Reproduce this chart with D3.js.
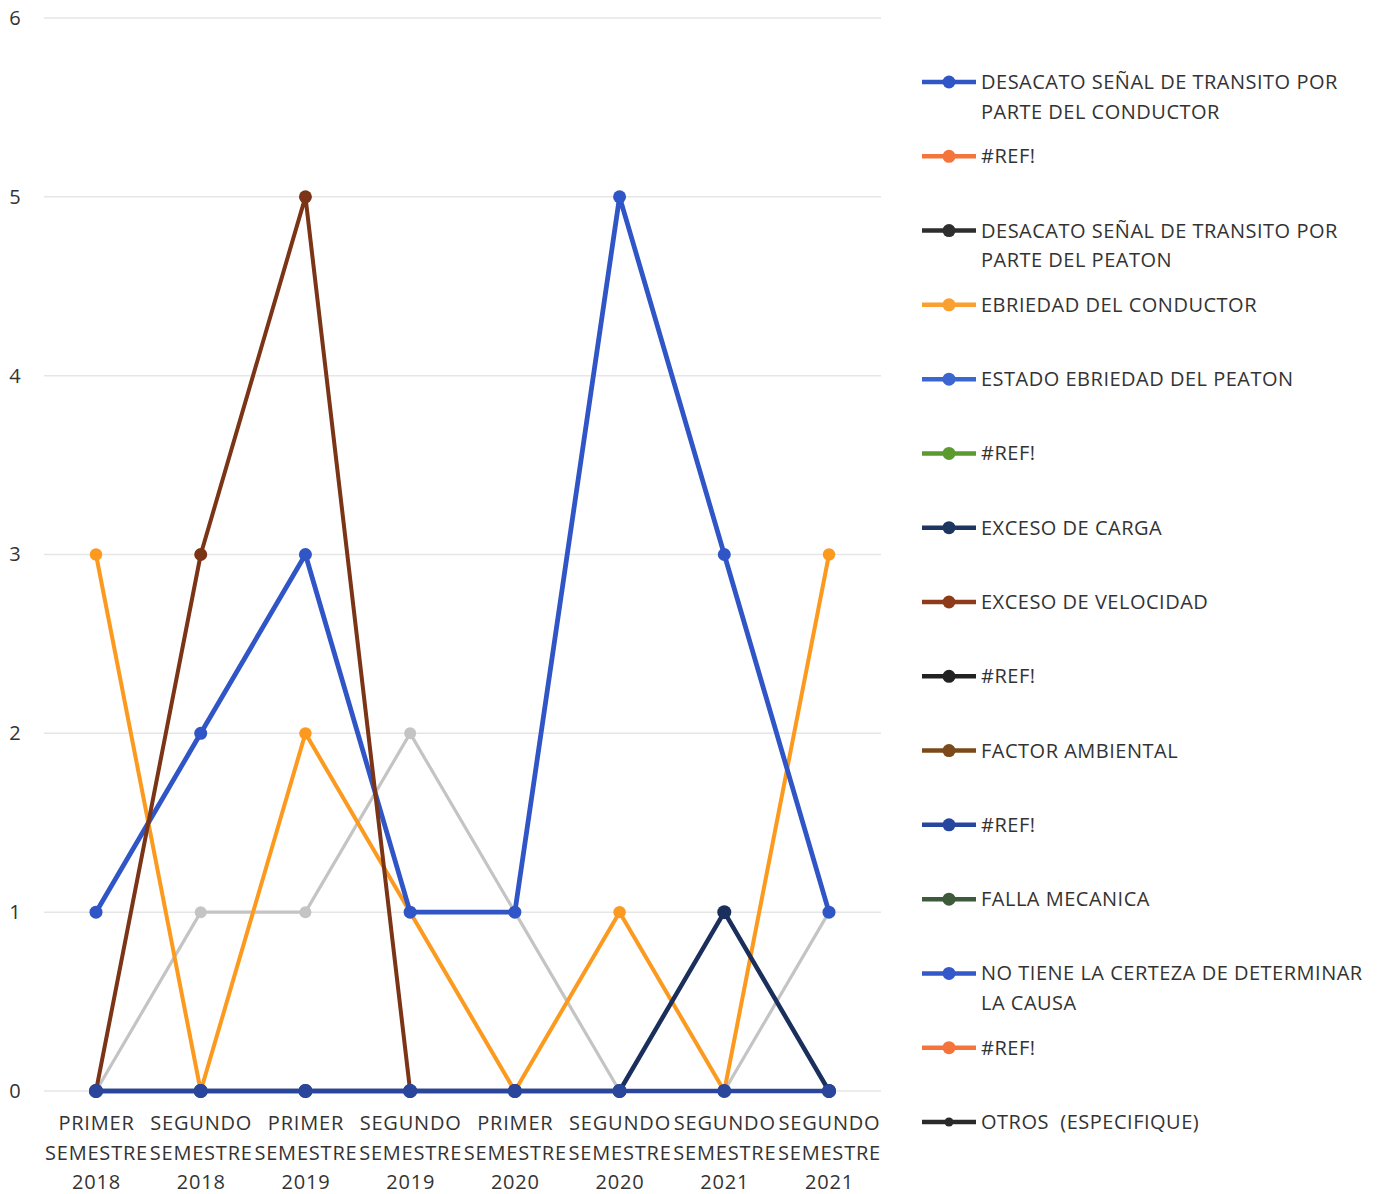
<!DOCTYPE html>
<html><head><meta charset="utf-8">
<script src="https://cdn.jsdelivr.net/npm/d3@7"></script>
<style>
html,body{margin:0;padding:0;background:#fff;}
text{font-family:"Open Sans",sans-serif;fill:#333;white-space:pre;}
</style></head>
<body>
<svg id="c" width="1383" height="1194"></svg>
<script>
const categories = [
  ["PRIMER","SEMESTRE","2018"],
  ["SEGUNDO","SEMESTRE","2018"],
  ["PRIMER","SEMESTRE","2019"],
  ["SEGUNDO","SEMESTRE","2019"],
  ["PRIMER","SEMESTRE","2020"],
  ["SEGUNDO","SEMESTRE","2020"],
  ["SEGUNDO","SEMESTRE","2021"],
  ["SEGUNDO","SEMESTRE","2021"]
];
const yTicks = [0,1,2,3,4,5,6];

// legend series (in legend order)
const legendNames = [
  ["DESACATO SEÑAL DE TRANSITO POR","PARTE DEL CONDUCTOR"],
  ["#REF!"],
  ["DESACATO SEÑAL DE TRANSITO POR","PARTE DEL PEATON"],
  ["EBRIEDAD DEL CONDUCTOR"],
  ["ESTADO EBRIEDAD DEL PEATON"],
  ["#REF!"],
  ["EXCESO DE CARGA"],
  ["EXCESO DE VELOCIDAD"],
  ["#REF!"],
  ["FACTOR AMBIENTAL"],
  ["#REF!"],
  ["FALLA MECANICA"],
  ["NO TIENE LA CERTEZA DE DETERMINAR","LA CAUSA"],
  ["#REF!"],
  ["OTROS  (ESPECIFIQUE)"]
];
const legendColors = ["#2f55c6","#f4743b","#2e2e2e","#f9a030","#3c66cf","#5a9a2e","#1e3560","#8e3b1c","#222222","#7a4a1a","#27479e","#3d5a3a","#3457c9","#f4743b","#2a2a2a"];

const desacatoConductor = [1,2,3,1,1,5,3,1];
const refOrange1       = [0,0,0,0,0,0,0,0];
const desacatoPeaton    = [0,0,0,0,0,0,0,0];
const ebriedadConductor = [3,0,2,1,0,1,0,3];
const ebriedadPeaton    = [0,0,0,0,0,0,0,0];
const refGreen          = [0,0,0,0,0,0,0,0];
const excesoCarga       = [0,0,0,0,0,0,1,0];
const excesoVelocidad   = [0,3,5,0,0,0,0,0];
const refBlack          = [0,0,0,0,0,0,0,0];
const factorAmbiental   = [0,0,0,0,0,0,0,0];
const refDarkBlue       = [0,0,0,0,0,0,0,0];
const fallaMecanica     = [0,0,0,0,0,0,0,0];
const noCerteza         = [0,0,0,0,0,0,0,0];
const refOrange2        = [0,0,0,0,0,0,0,0];
const otros             = [0,0,0,0,0,0,0,0];
const seriesGris        = [0,1,1,2,1,0,0,1];

// draw order (bottom to top)
const drawSeries = [
  {v:refOrange1, c:"#f4743b", w:4, r:6},
  {v:desacatoPeaton, c:"#2e2e2e", w:4, r:6},
  {v:ebriedadPeaton, c:"#3c66cf", w:4, r:6},
  {v:refGreen, c:"#5a9a2e", w:4, r:6},
  {v:refBlack, c:"#222222", w:4, r:6},
  {v:factorAmbiental, c:"#7a4a1a", w:4, r:6},
  {v:fallaMecanica, c:"#3d5a3a", w:4, r:6},
  {v:noCerteza, c:"#3457c9", w:4, r:6},
  {v:refOrange2, c:"#f4743b", w:4, r:6},
  {v:otros, c:"#2a2a2a", w:4, r:6},
  {v:seriesGris, c:"#c4c4c4", w:3.2, r:6},
  {v:ebriedadConductor, c:"#fb9a1e", w:4, r:6.2},
  {v:desacatoConductor, c:"#2f55c6", w:4.8, r:6.5},
  {v:excesoVelocidad, c:"#7b3416", w:4, r:6.5},
  {v:excesoCarga, c:"#1b2f5c", w:4.5, r:7},
  {v:refDarkBlue, c:"#2a469c", w:4.5, r:7}
];

const svg = d3.select("#c");
const x = d3.scalePoint().domain(d3.range(categories.length)).range([96,829]);
const y = d3.scaleLinear().domain([0,6]).range([1091,18]);

// gridlines
const grid = svg.append("g");
grid.selectAll("line").data(yTicks).join("line")
  .attr("x1",44).attr("x2",881)
  .attr("y1",d=>y(d)).attr("y2",d=>y(d))
  .attr("stroke","#e6e6e6").attr("stroke-width",1.5);

// y axis labels
const yAxis = svg.append("g").attr("transform","translate(23,0)")
  .call(d3.axisLeft(y).tickValues(yTicks).tickSize(0).tickPadding(0).tickFormat(d3.format("d")));
yAxis.select(".domain").remove();
yAxis.selectAll("text").attr("font-size",20).attr("text-anchor","middle").attr("dx",-8).attr("fill","#333");

// x axis labels
const xAxis = svg.append("g").attr("transform","translate(0,1091)")
  .call(d3.axisBottom(x).tickSize(0).tickFormat(""));
xAxis.select(".domain").remove();
xAxis.selectAll(".tick").each(function(d){
  const t = d3.select(this).append("text").attr("font-size",20).attr("letter-spacing",0.8)
    .attr("text-anchor","middle").attr("fill","#333");
  categories[d].forEach((s,i)=>{
    t.append("tspan").attr("x",0).attr("y",39+i*29.5).text(s);
  });
});

// lines
const line = d3.line().x((d,i)=>x(i)).y(d=>y(d));
const lg = svg.append("g");
drawSeries.forEach(s=>{
  const g = lg.append("g");
  g.append("path").datum(s.v).attr("d",line).attr("fill","none")
    .attr("stroke",s.c).attr("stroke-width",s.w).attr("stroke-linejoin","round");
  g.selectAll("circle").data(s.v).join("circle")
    .attr("cx",(d,i)=>x(i)).attr("cy",d=>y(d)).attr("r",s.r).attr("fill",s.c);
});

// legend
const leg = svg.append("g");
const ly = d3.scaleLinear().domain([0,14]).range([82,1122]);
legendNames.forEach((n,i)=>{
  const g = leg.append("g").attr("transform",`translate(0,${ly(i)})`);
  g.append("line").attr("x1",922).attr("x2",976).attr("y1",0).attr("y2",0)
    .attr("stroke",legendColors[i]).attr("stroke-width",4.5);
  g.append("circle").attr("cx",949).attr("cy",0).attr("r",i===14?4.5:6.5).attr("fill",legendColors[i]);
  const t = g.append("text").attr("font-size",20).attr("letter-spacing",0.5).attr("fill","#333");
  n.forEach((s,j)=>t.append("tspan").attr("x",981).attr("y",7+j*29.5).text(s));
});
</script>
</body></html>
